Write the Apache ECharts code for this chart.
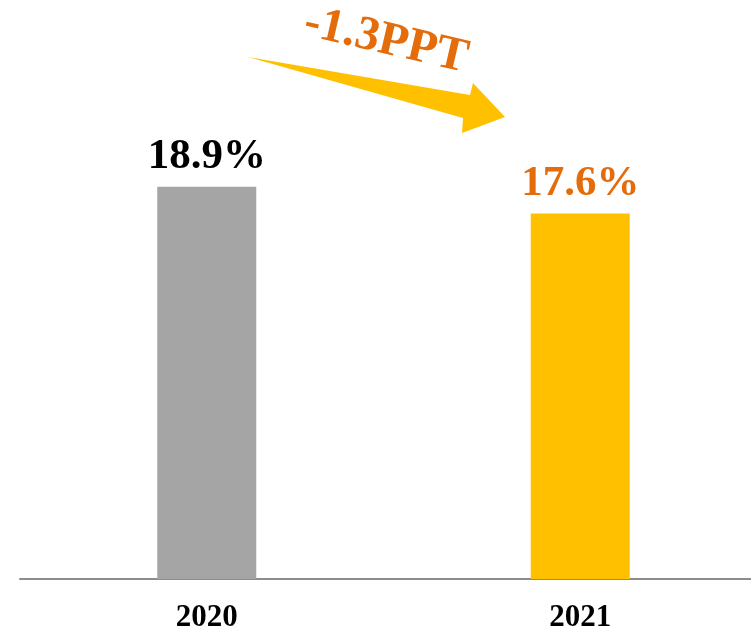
<!DOCTYPE html>
<html>
<head>
<meta charset="utf-8">
<script src="https://cdn.jsdelivr.net/npm/echarts@6/dist/echarts.min.js"></script>
<style>
    html, body { margin: 0; padding: 0; background: #fff; }
    #chart { width: 751px; height: 629px; }
</style>
</head>
<body>
<div id="chart"></div>
<script>
// 数据
const years = ['2020', '2021'];
const rates = [18.9, 17.6];
const barColors = ['#A5A5A5', '#FFC000'];
const labelColors = ['#000000', '#E46C0A'];
const changeText = '-1.3PPT';

const serif = '"Liberation Serif", "Times New Roman", serif';

let chart = echarts.init(document.getElementById('chart'));

let option = {
    animation: false,
    grid: {
        left: 20,
        width: 747,
        top: 60,
        bottom: 50,
        outerBoundsMode: 'none'
    },
    xAxis: {
        type: 'category',
        data: years,
        axisLine: {
            lineStyle: { color: '#8C8C8C', width: 2 }
        },
        axisTick: { show: false },
        axisLabel: {
            color: '#000',
            fontFamily: serif,
            fontWeight: 'bold',
            fontSize: 31,
            margin: 23
        }
    },
    yAxis: {
        type: 'value',
        min: 0,
        max: 25,
        show: false
    },
    series: [{
        type: 'bar',
        barWidth: 99,
        data: rates.map((v, i) => ({
            value: v,
            itemStyle: { color: barColors[i] },
            label: { color: labelColors[i] }
        })),
        label: {
            show: true,
            position: 'top',
            distance: 8,
            fontFamily: serif,
            fontWeight: 'bold',
            fontSize: 43,
            formatter: p => p.value.toFixed(1) + '%'
        }
    }],
    graphic: [
        // 箭头
        {
            type: 'polygon',
            shape: {
                points: [[248, 57], [470, 95], [473, 83], [505, 117], [462, 133], [463, 118]]
            },
            style: { fill: '#FFC000' }
        },
        {
            type: 'text',
            x: 386,
            y: 41,
            rotation: -13 * Math.PI / 180,
            style: {
                text: changeText,
                fill: '#E46C0A',
                font: 'bold 48px ' + serif,
                textAlign: 'center',
                textVerticalAlign: 'middle'
            }
        }
    ]
};

chart.setOption(option);
</script>
</body>
</html>
